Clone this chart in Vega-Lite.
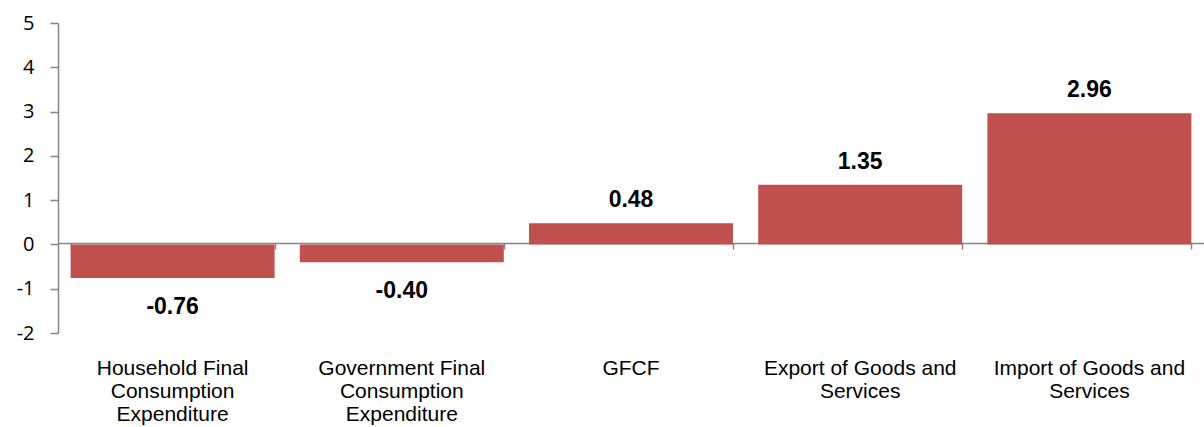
{
  "$schema": "https://vega.github.io/schema/vega-lite/v6.json",
  "width": 1146,
  "height": 310,
  "padding": {"left": 58, "top": 23, "right": 0, "bottom": 94},
  "autosize": {"type": "none"},
  "background": "white",
  "config": {
    "view": {"stroke": null},
    "axisY": {
      "labelFont": "Open Sans",
      "labelFontSize": 20,
      "labelColor": "#000000",
      "labelPadding": 16,
      "tickSize": 8,
      "grid": false
    }
  },
  "data": {
    "values": [
      {"category": "Household Final Consumption Expenditure", "value": -0.76, "label": "-0.76"},
      {"category": "Government Final Consumption Expenditure", "value": -0.40, "label": "-0.40"},
      {"category": "GFCF", "value": 0.48, "label": "0.48"},
      {"category": "Export of Goods and Services", "value": 1.35, "label": "1.35"},
      {"category": "Import of Goods and Services", "value": 2.96, "label": "2.96"}
    ]
  },
  "encoding": {
    "x": {
      "field": "category",
      "type": "nominal",
      "sort": null,
      "scale": {"paddingInner": 0.11, "paddingOuter": 0.055}
    },
    "y": {
      "field": "value",
      "type": "quantitative",
      "scale": {"domain": [-2, 5], "nice": false, "zero": false},
      "axis": {
        "title": null,
        "values": [-2, -1, 0, 1, 2, 3, 4, 5],
        "labelExpr": "'' + datum.value",
        "grid": false,
        "domainColor": "#868686",
        "domainWidth": 1.5,
        "tickColor": "#868686",
        "tickWidth": 1.5,
        "tickSize": 8,
        "labelPadding": 16,
        "labelFont": "Open Sans",
        "labelFontSize": 20,
        "labelColor": "#000000"
      }
    }
  },
  "layer": [
    {
      "mark": {"type": "bar", "color": "#C0504D"},
      "encoding": {
        "x": {
          "field": "category",
          "type": "nominal",
          "sort": null,
          "axis": {
            "title": null,
            "orient": "bottom",
            "domain": false,
            "ticks": false,
            "labelAngle": 0,
            "labelPadding": 24,
            "labelFont": "Liberation Sans",
            "labelFontSize": 21,
            "labelColor": "#000000",
            "labelLineHeight": 23,
            "labelLimit": 300,
            "labelExpr": "datum.value == 'Household Final Consumption Expenditure' ? ['Household Final', 'Consumption', 'Expenditure'] : datum.value == 'Government Final Consumption Expenditure' ? ['Government Final', 'Consumption', 'Expenditure'] : datum.value == 'Export of Goods and Services' ? ['Export of Goods and', 'Services'] : datum.value == 'Import of Goods and Services' ? ['Import of Goods and', 'Services'] : datum.value"
          }
        }
      }
    },
    {
      "transform": [{"filter": "datum.value > 0"}],
      "mark": {"type": "text", "font": "Liberation Sans", "fontSize": 23, "fontWeight": "bold", "color": "#000000", "baseline": "alphabetic", "dy": -16},
      "encoding": {
        "x": {
          "field": "category",
          "type": "nominal",
          "sort": null,
          "axis": {
            "title": null,
            "orient": "bottom",
            "offset": -90,
            "labels": false,
            "domainColor": "#868686",
            "domainWidth": 1.5,
            "tickColor": "#868686",
            "tickWidth": 1.5,
            "tickSize": 6,
            "tickBand": "extent"
          }
        },
        "text": {"field": "label"}
      }
    },
    {
      "transform": [{"filter": "datum.value < 0"}],
      "mark": {"type": "text", "font": "Liberation Sans", "fontSize": 23, "fontWeight": "bold", "color": "#000000", "baseline": "alphabetic", "dy": 36},
      "encoding": {
        "x": {"field": "category", "type": "nominal", "sort": null, "axis": null},
        "text": {"field": "label"}
      }
    }
  ],
  "resolve": {"axis": {"x": "independent"}}
}
